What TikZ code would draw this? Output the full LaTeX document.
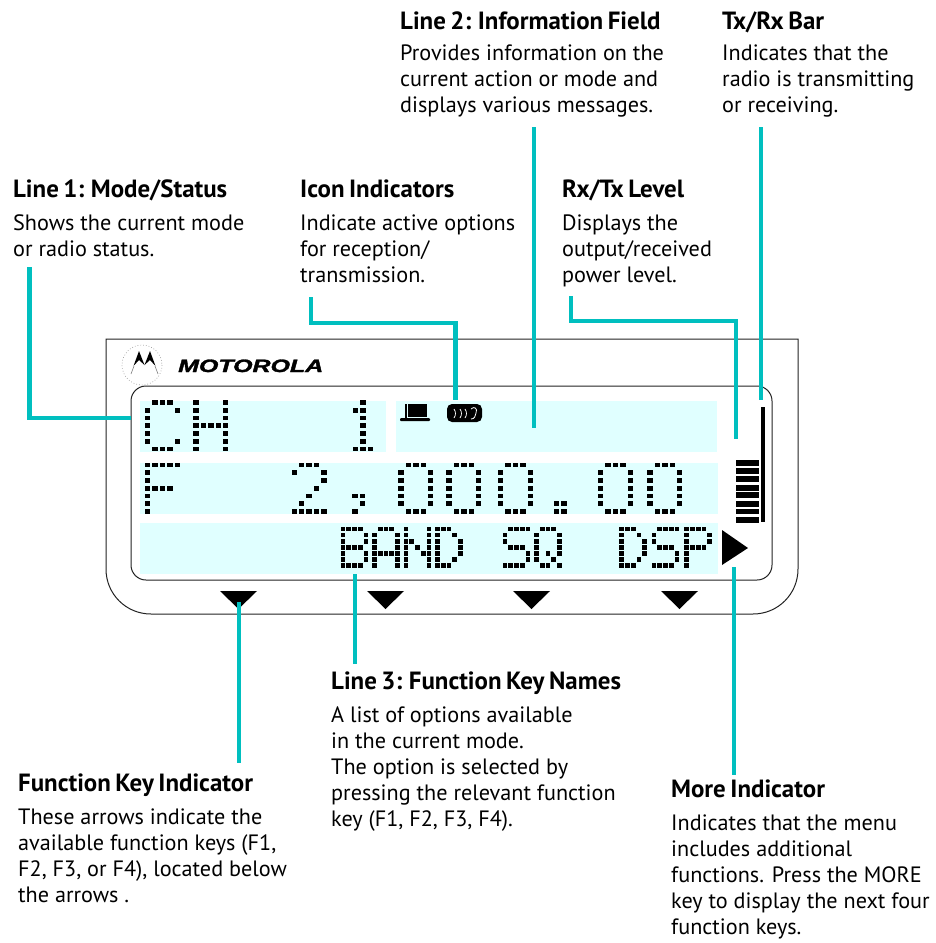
\documentclass[tikz,border=0pt]{standalone}
\usepackage{fontspec}
\usepackage{graphicx}
\setmainfont{PT Sans}
\newfontfamily\headfont[WordSpace=0.72]{PT Sans}
\newfontfamily\logofont[FakeBold=1.6]{Liberation Sans}
\definecolor{tealline}{HTML}{00BFBF}
\definecolor{panelcyan}{HTML}{E0FFFF}
\definecolor{framegray}{HTML}{222222}
\newcommand{\dmput}[6]{% x y px py list dotsize (w/h)
  \foreach \dmc/\dmr in #5 {\fill[black] ({#1+\dmc*#3-#6/2},{#2+\dmr*#4-2.3}) rectangle ({#1+\dmc*#3+#6/2},{#2+\dmr*#4+2.3});}}
\newcommand{\bigch}[3]{\dmput{#1}{#2}{7.4}{7.75}{#3}{5.4}}
\newcommand{\smallch}[3]{\dmput{#1}{#2}{5.75}{6.1}{#3}{4.8}}
\def\gC{1/0,2/0,3/0,0/1,4/1,0/2,0/3,0/4,0/5,4/5,1/6,2/6,3/6}
\def\gH{0/0,4/0,0/1,4/1,0/2,4/2,0/3,1/3,2/3,3/3,4/3,0/4,4/4,0/5,4/5,0/6,4/6}
\def\gOne{2/0,1/1,2/1,2/2,2/3,2/4,2/5,1/6,2/6,3/6}
\def\gF{0/0,1/0,2/0,3/0,4/0,0/1,0/2,0/3,1/3,2/3,3/3,0/4,0/5,0/6}
\def\gTwo{1/0,2/0,3/0,0/1,4/1,4/2,3/3,2/4,1/5,0/6,1/6,2/6,3/6,4/6}
\def\gComma{0/4,1/4,1/5,0/6}
\def\gZero{1/0,2/0,3/0,0/1,4/1,0/2,4/2,0/3,4/3,0/4,4/4,0/5,4/5,1/6,2/6,3/6}
\def\gPeriod{0/5,1/5,0/6,1/6}
\def\gB{0/0,1/0,2/0,3/0,0/1,4/1,0/2,4/2,0/3,1/3,2/3,3/3,0/4,4/4,0/5,4/5,0/6,1/6,2/6,3/6}
\def\gA{1/0,2/0,3/0,0/1,4/1,0/2,4/2,0/3,4/3,0/4,1/4,2/4,3/4,4/4,0/5,4/5,0/6,4/6}
\def\gN{0/0,4/0,0/1,4/1,0/2,1/2,4/2,0/3,2/3,4/3,0/4,3/4,4/4,0/5,4/5,0/6,4/6}
\def\gD{0/0,1/0,2/0,0/1,3/1,0/2,4/2,0/3,4/3,0/4,4/4,0/5,3/5,0/6,1/6,2/6}
\def\gS{1/0,2/0,3/0,4/0,0/1,0/2,1/3,2/3,3/3,4/4,4/5,0/6,1/6,2/6,3/6}
\def\gQ{1/0,2/0,3/0,0/1,4/1,0/2,4/2,0/3,4/3,0/4,2/4,4/4,0/5,3/5,1/6,2/6,4/6}
\def\gP{0/0,1/0,2/0,3/0,0/1,4/1,0/2,4/2,0/3,1/3,2/3,3/3,0/4,0/5,0/6}
\tikzset{
  conn/.style={draw=tealline,line width=4.6pt,line join=miter},
  connthin/.style={draw=tealline,line width=3.2pt,line join=miter},
  frame/.style={draw=framegray,line width=1pt},
  panel/.style={fill=panelcyan,draw=none,inner sep=0pt,anchor=north west},
  headtext/.style={anchor=base west,inner sep=0pt,font=\headfont\fontsize{24.9}{26}\selectfont\bfseries},
  bodytext/.style={anchor=base west,inner sep=0pt,align=left,font=\fontsize{22.2}{26}\selectfont},
  keyarrow/.style={fill=black,draw=none},
}
\begin{document}
\begin{tikzpicture}[x=1pt,y=-1pt]
\useasboundingbox (0,0) rectangle (936,943);
% frames
\draw[frame] (106,339) -- (798,339) -- (798,569) .. controls (798,594) and (778,614) .. (753,614) -- (151,614) .. controls (126,614) and (106,594) .. (106,569) -- cycle;
\node[frame,rounded corners=15pt,minimum width=641pt,minimum height=194pt,inner sep=0pt] (inner) at (451.5,483) {};
% panels
\node[panel,minimum width=246pt,minimum height=51pt] (p1) at (140,401) {};
\node[panel,minimum width=321pt,minimum height=51pt] (p2) at (396,401) {};
\node[panel,minimum width=578pt,minimum height=51pt] (p3) at (140,463) {};
\node[panel,minimum width=578pt,minimum height=51pt] (p4) at (140,523) {};
% logo
\draw[gray!70,dash pattern=on 0.8pt off 2pt,line width=0.7pt] (142,365) circle[radius=20];
\fill[black] (139,351) -- (144.5,365) -- (139,360) -- (133.5,366) -- cycle;
\fill[black] (150,351) -- (155.5,366) -- (150,360) -- (144.5,365) -- cycle;
\draw[gray,line width=0.6pt] (134,366) -- (131,374) (155,366) -- (158,374);
\node[anchor=base west,inner sep=0pt] (logo) at (178,372) {\resizebox{145pt}{12.5pt}{\logofont\bfseries\itshape MOTOROLA}};
% row 1
\bigch{147.7}{402.5}{\gC}
\bigch{196}{402.5}{\gH}
\bigch{348}{402.5}{\gOne}
% row 2
\bigch{147.7}{465}{\gF}
\bigch{294.3}{465}{\gTwo}
\bigch{355}{465}{\gComma}
\bigch{401}{465}{\gZero}
\bigch{449}{465}{\gZero}
\bigch{500.7}{465}{\gZero}
\bigch{556.7}{465}{\gPeriod}
\bigch{600.7}{465}{\gZero}
\bigch{650}{465}{\gZero}
% row 3
\smallch{343}{529}{\gB}
\smallch{374.5}{529}{\gA}
\smallch{406}{529}{\gN}
\smallch{437.5}{529}{\gD}
\smallch{505}{529}{\gS}
\smallch{536.5}{529}{\gQ}
\smallch{621.7}{529}{\gD}
\smallch{654}{529}{\gS}
\smallch{686.7}{529}{\gP}
% icons
\fill[black] (405,404) rectangle (406.6,418);
\fill[black] (407.6,404) rectangle (427,417);
\fill[black,rounded corners=1pt] (400,418) rectangle (430,421);
\fill[black,rounded corners=5pt] (447,404) rectangle (482,422);
\draw[white,line width=0.7pt] (454,409) .. controls (456,412) and (456,415) .. (454,418);
\draw[white,line width=0.7pt] (460,409) .. controls (462,412) and (462,415) .. (460,418);
\draw[white,line width=0.7pt] (465,409) .. controls (467,412) and (467,415) .. (465,418);
\draw[white,line width=0.8pt] (471,409) .. controls (474,406) and (478,408) .. (476,413) .. controls (475,416) and (475,419) .. (471,419);
% level bars
\foreach \ya/\yb in {460/466,468.3/474,476/482.3,485/491,492.3/497.7,501.3/507.3,509.3/514.3,517/522.7}{\fill[black] (736,\ya) rectangle (759,\yb);}
\fill[black] (761,407) rectangle (765,522);
% arrows
\fill[keyarrow] (722,530) -- (748,548) -- (722,565) -- cycle;
\fill[keyarrow] (220,591) -- (257,591) -- (238.5,609) -- cycle;
\fill[keyarrow] (367,591) -- (404,591) -- (385.5,609) -- cycle;
\fill[keyarrow] (513,591) -- (550,591) -- (531.5,609) -- cycle;
\fill[keyarrow] (661,591) -- (698,591) -- (679.5,609) -- cycle;
% labels
\node[headtext] (h1) at (13,197) {Line 1: Mode/Status};
\node[bodytext] (b1) at (13,256) {Shows the current mode\\or radio status.};
\node[headtext] (h2) at (300,197) {Icon Indicators};
\node[bodytext] (b2) at (300,282) {Indicate active options\\for reception/\\transmission.};
\node[headtext] (h3) at (400,29) {Line 2: Information Field};
\node[bodytext] (b3) at (400,112) {Provides information on the\\current action or mode and\\displays various messages.};
\node[headtext] (h4) at (722,29) {Tx/Rx Bar};
\node[bodytext] (b4) at (722,112) {Indicates that the\\radio is transmitting\\or receiving.};
\node[headtext] (h5) at (562,197) {Rx/Tx Level};
\node[bodytext] (b5) at (562,282) {Displays the\\output/received\\power level.};
\node[headtext] (h6) at (331,689) {Line 3: Function Key Names};
\node[bodytext] (b6) at (331,826) {A list of options available\\in the current mode.\\The option is selected by\\pressing the relevant function\\key (F1, F2, F3, F4).};
\node[headtext] (h7) at (18,791) {Function Key Indicator};
\node[bodytext] (b7) at (18,902) {These arrows indicate the\\available function keys (F1,\\F2, F3, or F4), located below\\the arrows .};
\node[headtext] (h8) at (671,797) {More Indicator};
\node[bodytext] (b8) at (671,934) {Indicates that the menu\\includes additional\\functions. Press the MORE\\key to display the next four\\function keys.};
% connector ends
\coordinate (c1a) at (29.5,267); \coordinate (c1b) at (131,418);
\coordinate (c2a) at (311,297); \coordinate (c2b) at (455.7,400);
\coordinate (c3a) at (534,127); \coordinate (c3b) at (534,428);
\coordinate (c4a) at (761,127); \coordinate (c4b) at (761,400);
\coordinate (c5a) at (571,296); \coordinate (c5b) at (736,439);
\coordinate (c6a) at (355,574); \coordinate (c6b) at (355,664);
\coordinate (c7a) at (239,602); \coordinate (c7b) at (239,763);
\coordinate (c8a) at (734,567); \coordinate (c8b) at (734,775);
\draw[conn] (c1a) |- (c1b);
\draw[conn] (c2a) |- (398,323) -| (c2b);
\draw[conn] (c3a) -- (c3b);
\draw[connthin] (c4a) -- (c4b);
\draw[conn] (c5a) |- (640,321) -| (c5b);
\draw[connthin] (c6a) -- (c6b);
\draw[connthin] (c7a) -- (c7b);
\draw[conn] (c8a) -- (c8b);
\end{tikzpicture}
\end{document}
